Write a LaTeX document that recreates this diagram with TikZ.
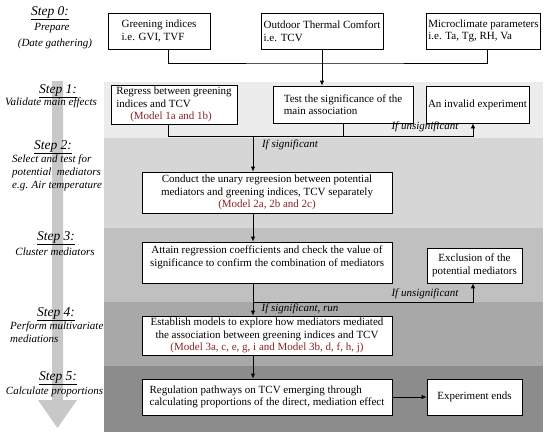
\documentclass[tikz,border=0pt]{standalone}
\usepackage{fontspec}
\setmainfont{Liberation Serif}
\usepackage{tikz}
\usetikzlibrary{arrows.meta}

\definecolor{modred}{RGB}{140,35,35}
\definecolor{bandA}{RGB}{236,236,236}
\definecolor{bandB}{RGB}{214,214,214}
\definecolor{bandC}{RGB}{192,192,192}
\definecolor{bandD}{RGB}{168,168,168}
\definecolor{bandE}{RGB}{140,140,140}
\definecolor{bigarrow}{RGB}{200,200,200}

\tikzset{
  box/.style={draw=black, fill=white, line width=0.8pt, inner sep=2pt,
    font=\fontsize{11}{12.5}\selectfont},
  steptitle/.style={font=\fontsize{13.5}{15}\selectfont\itshape, inner sep=0pt},
  stepnote/.style={font=\fontsize{11}{13}\selectfont\itshape, inner sep=0pt},
  iflbl/.style={font=\fontsize{11}{13}\selectfont\itshape, inner sep=0pt},
  arr/.style={draw=black, line width=0.8pt, -{Latex[length=5pt,width=4.5pt]}},
  line/.style={draw=black, line width=0.8pt}
}

\begin{document}
\begin{tikzpicture}[x=1pt, y=-1pt]
    \useasboundingbox (0,0) rectangle (550,440);

    % background bands
    \fill[bandA] (104,82) rectangle (543,138);
    \fill[bandB] (104,138) rectangle (543,228);
    \fill[bandC] (104,228) rectangle (543,302);
    \fill[bandD] (104,302) rectangle (543,366);
    \fill[bandE] (104,366) rectangle (543,432);

    % big arrow on the left
    \fill[bigarrow] (52,81) -- (63,81) -- (63,400) -- (77,400) -- (57.5,428)
        -- (38,400) -- (52,400) -- cycle;

    % step labels
    \node[steptitle] at (50,13) (s0) {\underline{Step 0:}};
    \node[stepnote] at (52,28) (n0a) {Prepare};
    \node[stepnote] at (55,44) (n0b) {(Date gathering)};
    \node[steptitle] at (58,91) (s1) {\underline{Step 1:}};
    \node[stepnote] at (51,103) (n1) {Validate main effects};
    \node[steptitle] at (53,147) (s2) {\underline{Step 2:}};
    \node[stepnote, anchor=north west, align=left] at (12,155) (n2)
        {Select and test for\\ potential \ mediators\\ e.g. Air temperature};
    \node[steptitle] at (56,238) (s3) {\underline{Step 3:}};
    \node[stepnote] at (55,252) (n3) {Cluster mediators};
    \node[steptitle] at (56,314) (s4) {\underline{Step 4:}};
    \node[stepnote, anchor=north west, align=left] at (10,322) (n4)
        {Perform multivariate\\ mediations};
    \node[steptitle] at (58,378) (s5) {\underline{Step 5:}};
    \node[stepnote] at (54.5,392) (n5) {Calculate proportions};

    % step 0
    \node[box, minimum width=102pt, minimum height=36pt, align=left] at (159,31) (g0)
        {Greening indices\\ i.e. GVI, TVF};
    \node[box, minimum width=122pt, minimum height=36pt, align=left] at (322,31) (t0)
        {Outdoor Thermal Comfort\\ i.e. TCV};
    \node[box, minimum width=113pt, minimum height=36pt, align=left] at (483.5,31) (m0)
        {Microclimate parameters\\ i.e. Ta, Tg, RH, Va};

    % step 1
    \node[box, minimum width=126pt, minimum height=37pt, align=left] at (174,104.5) (reg)
        {Regress between greening\\ indices and TCV\\
         \hspace*{14pt}\textcolor{modred}{(Model 1a and 1b)}};
    \node[box, minimum width=140pt, minimum height=37pt, align=left] at (343,104.5) (test)
        {Test the significance of the\\ main association};
    \node[box, minimum width=101pt, minimum height=37pt] at (477.5,104.5) (inval)
        {An invalid experiment};

    % step 2
    \node[box, minimum width=250pt, minimum height=41pt, align=center] at (267,192.5) (cond)
        {Conduct the unary regreesion between potential\\
         mediators and greening indices, TCV separately\\
         \textcolor{modred}{(Model 2a, 2b and 2c)}};

    % step 3
    \node[box, minimum width=250pt, minimum height=41pt, align=center] at (267,262.5) (att)
        {Attain regression coefficients and check the value of\\
         significance to confirm the combination of mediators\\ \mbox{}};
    \node[box, minimum width=95pt, minimum height=35pt, align=center] at (474.5,265.5) (excl)
        {Exclusion of the\\ potential mediators};

    % step 4
    \node[box, minimum width=250pt, minimum height=37pt, align=center] at (267,335.5) (est)
        {Establish models to explore how mediators mediated\\
         the association between greening indices and TCV\\
         \textcolor{modred}{(Model 3a, c, e, g, i and Model 3b, d, f, h, j)}};

    % step 5
    \node[box, minimum width=250pt, minimum height=36pt, align=left] at (267,397) (regu)
        {Regulation pathways on TCV emerging through\\
         calculating proportions of the direct, mediation effect};
    \node[box, minimum width=95pt, minimum height=36pt] at (474.5,397) (endx)
        {Experiment ends};

    % connectors
    \coordinate (j0) at (322,63);
    \coordinate (j1) at (253,136);
    \coordinate (j3) at (253,302);
    \coordinate (u1) at (473,136);
    \draw[line] ([xshift=9pt]g0.south) |- (j0) -| ([xshift=3.5pt]m0.south);
    \draw[arr] (t0.south) -- (t0.south |- test.north);
    \draw[arr] ([xshift=-6pt]reg.south) |- (u1) -- (u1 |- inval.south);
    \draw[line] (test.south) -- (test.south |- j1);
    \draw[arr] (j1) -- (j1 |- cond.north);
    \draw[arr] (j1 |- cond.south) -- (j1 |- att.north);
    \draw[arr] (j3 |- att.south) -- (j3 |- est.north);
    \draw[arr] (j3) -| ([xshift=-1.5pt]excl.south);
    \draw[arr] (j3 |- est.south) -- (j3 |- regu.north);
    \draw[arr] (regu) -- (endx);

    % branch labels
    \node[iflbl] at (425,127) (l1) {If unsignificant};
    \node[iflbl] at (290,145) (l2) {If significant};
    \node[iflbl] at (425,294) (l3) {If unsignificant};
    \node[iflbl] at (300,309) (l4) {If significant, run};
\end{tikzpicture}
\end{document}
